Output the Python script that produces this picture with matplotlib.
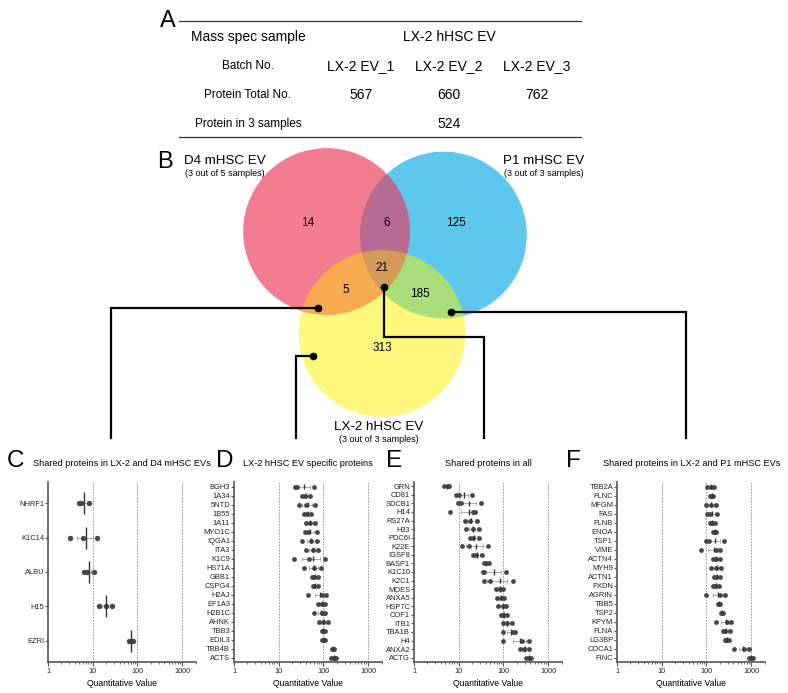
import numpy as np
import matplotlib
matplotlib.use("Agg")
import matplotlib.pyplot as plt
from matplotlib.colors import to_rgba

plt.rcParams['font.family'] = ['Liberation Sans', 'DejaVu Sans']

## donnees du tableau (A)
batches = ["LX-2 EV_1", "LX-2 EV_2", "LX-2 EV_3"]
protein_totals = [567, 660, 762]
protein_in_all = 524

## donnees du venn (B)
venn_sets = ["D4 mHSC EV", "P1 mHSC EV", "LX-2 hHSC EV"]
venn_notes = ["(3 out of 5 samples)", "(3 out of 3 samples)", "(3 out of 3 samples)"]
# regions : D4 seul, D4&P1, P1 seul, tous, D4&LX2, P1&LX2, LX2 seul
venn_counts = [14, 6, 125, 21, 5, 185, 313]

## panneaux C-F : 3 valeurs par proteine
C_names = ["NHRF1", "K1C14", "ALBU", "H15", "EZRI"]
C_vals = [[4.9, 5.5, 8.3], [3.1, 6.2, 12.3], [6.4, 7.6, 10.5],
          [13.6, 19.9, 27.0], [66, 72, 80]]

D_names = ["BGH3", "1A34", "5NTD", "1B55", "1A11", "MYO1C", "IQGA1", "ITA3",
           "K1C9", "HS71A", "GBB1", "CSPG4", "H2AJ", "EF1A3", "H2B1C", "AHNK",
           "TBB3", "EDIL3", "TBB4B", "ACTS"]
D_vals = [[23.5, 25.5, 63], [34, 39, 49], [27.8, 40.4, 65], [37, 44, 53],
          [39.8, 49, 65], [37.8, 45, 71], [34, 53, 71], [41, 57, 77],
          [21.5, 47, 109], [36, 62, 87], [55, 63, 75], [57, 63, 77],
          [45, 92, 113], [75, 92, 109], [63, 92, 109], [80, 100, 125],
          [92, 100, 109], [95, 102, 109], [153, 164, 175], [148, 170, 195]]

E_names = ["GRN", "CD81", "SDCB1", "H14", "RS27A", "H33", "PDC6I", "K22E",
           "IGSF8", "BASP1", "K1C10", "K2C1", "MOES", "ANXA5", "HSP7C", "COF1",
           "ITB1", "TBA1B", "H4", "ANXA2", "ACTG"]
E_vals = [[4.8, 5.7, 6.2], [8.5, 10, 20], [9.5, 11, 31], [6.3, 21, 23],
          [13.6, 18.2, 25.6], [14.5, 20.6, 28.9], [18, 20.6, 29],
          [11.8, 17.3, 45], [20.6, 24.4, 33.2], [36, 41, 47], [35, 37, 115],
          [36, 51, 160], [68.5, 85, 96], [70, 88, 105], [75, 100, 112],
          [88, 100, 122], [100, 118, 152], [96, 160, 185], [97, 255, 370],
          [235, 290, 370], [320, 365, 420]]

F_names = ["TBB2A", "FLNC", "MFGM", "FAS", "FLNB", "ENOA", "TSP1", "VIME",
           "ACTN4", "MYH9", "ACTN1", "PXDN", "AGRIN", "TBB5", "TSP2", "KPYM",
           "FLNA", "LG3BP", "COCA1", "FINC"]
F_vals = [[105, 125, 148], [119, 129, 143], [97, 129, 161], [105, 119, 175],
          [119, 134, 153], [141, 153, 167], [97, 112, 247], [77, 161, 198],
          [141, 161, 198], [125, 167, 215], [148, 167, 204], [141, 153, 188],
          [97, 198, 255], [181, 191, 201], [215, 227, 239], [167, 290, 360],
          [235, 264, 330], [255, 278, 313], [412, 687, 888], [888, 1000, 1120]]

W, H = 788, 693
fig = plt.figure(figsize=(W / 100, H / 100), dpi=100)

# calque en pixels pour le tableau, le venn et les traits de liaison
ov = fig.add_axes([0, 0, 1, 1])
ov.axis("off")


def px_axes(left, top, right, bottom):
    """axes places en pixels (origine en haut a gauche)"""
    return fig.add_axes([left / W, 1 - bottom / H, (right - left) / W, (bottom - top) / H])


### A : tableau
ov.text(160, 27, "A", fontsize=17, va="baseline")
ov.plot([179, 581], [20.7, 20.7], color="#333333", lw=0.9)
ov.plot([179, 581], [136.5, 136.5], color="#333333", lw=0.9)
col_x = [361, 449, 537]
ov.text(248, 37, "Mass spec sample", fontsize=10, ha="center", va="center")
ov.text(449, 37, "LX-2 hHSC EV", fontsize=10, ha="center", va="center")
ov.text(248, 66, "Batch No.", fontsize=8.5, ha="center", va="center")
ov.text(248, 95, "Protein Total No.", fontsize=8.5, ha="center", va="center")
ov.text(248, 124, "Protein in 3 samples", fontsize=8.5, ha="center", va="center")
for x, b, t in zip(col_x, batches, protein_totals):
    ov.text(x, 66, b, fontsize=10, ha="center", va="center")
    ov.text(x, 95, str(t), fontsize=10, ha="center", va="center")
ov.text(col_x[1], 124, str(protein_in_all), fontsize=10, ha="center", va="center")

### B : venn
circles = [(326.5, 231.5, 83.5), (443.5, 235, 83.5), (382, 333.5, 83.5)]
region_colors = ["#ffffff00", "#F27C90", "#5EC8EE", "#B86A93",
                 "#FFF87C", "#F7AA50", "#A9DE7A", "#D49A58"]
lut = np.array([to_rgba(c) for c in region_colors])
x0, x1, y0, y1 = 230, 540, 140, 425
step = 0.25
xs = np.arange(x0, x1, step) + step / 2
ys = np.arange(y0, y1, step) + step / 2
XX, YY = np.meshgrid(xs, ys)
code = np.zeros(XX.shape, dtype=int)
for k, (cx, cy, r) in enumerate(circles):
    code += ((XX - cx) ** 2 + (YY - cy) ** 2 <= r ** 2).astype(int) << k
ov.imshow(lut[code], extent=(x0, x1, y1, y0), interpolation="antialiased", zorder=1)

ov.text(157, 168, "B", fontsize=17, va="baseline")
label_pos = [(225, 161), (544, 161), (379, 427)]
for (lx, ly), name, note in zip(label_pos, venn_sets, venn_notes):
    ov.text(lx, ly, name, fontsize=9.6, ha="center", va="center")
    ov.text(lx, ly + 12.5, note, fontsize=6.5, ha="center", va="center")
count_pos = [(308, 223), (387, 223), (456, 223), (382, 268), (346, 290), (420, 294), (382, 348)]
for (cx, cy), n in zip(count_pos, venn_counts):
    ov.text(cx, cy, str(n), fontsize=8.5, ha="center", va="center", zorder=3)

# traits de liaison venn -> panneaux
links = [([318, 111, 111], [308, 308, 438]),
         ([313, 296, 296], [356, 356, 438]),
         ([384, 384, 484, 484], [287, 337, 337, 438]),
         ([451, 686, 686], [312, 312, 438])]
for lx, ly in links:
    ov.plot(lx, ly, color="black", lw=1.6, zorder=4, solid_joinstyle="miter")
    ov.plot(lx[0], ly[0], "o", color="black", ms=4.5, zorder=5)

ov.set_xlim(0, W)
ov.set_ylim(H, 0)
ov.set_aspect("auto")


### C-F : dot plots
def draw_panel(ax, names, vals, pad, dot_s):
    n = len(names)
    for i, v in enumerate(vals):
        v = np.array(v, dtype=float)
        m = v.mean()
        se = v.std(ddof=1) / np.sqrt(len(v))
        ax.errorbar(m, i, xerr=se, fmt="none", ecolor="#9a9a9a", elinewidth=0.6,
                    capsize=1.2, capthick=0.6, zorder=2)
        ax.scatter(v, [i] * len(v), s=dot_s, color="#474747", linewidths=0, zorder=3)
        ax.vlines(m, i - 0.32, i + 0.32, color="#333333", lw=1.0, zorder=4)
    ax.set_xscale("log")
    ax.set_xlim(1, 2000)
    ax.set_ylim(n - 1 + pad, -pad)
    ax.set_yticks(np.arange(n))
    ax.set_yticklabels(names)
    ax.set_xticks([1, 10, 100, 1000])
    ax.set_xticklabels(["1", "10", "100", "1000"])
    for g in [10, 100, 1000]:
        ax.axvline(g, color="#8c8c8c", lw=0.6, ls=(0, (2, 1.5)), zorder=0)
    for s in ["top", "right"]:
        ax.spines[s].set_visible(False)
    for s in ["left", "bottom"]:
        ax.spines[s].set_color("#555555")
        ax.spines[s].set_linewidth(1.2)
    ax.tick_params(axis="y", length=2, width=0.8, color="#555555", labelsize=5.4,
                   labelcolor="#222222", pad=0.8)
    ax.tick_params(axis="x", which="major", length=3, width=0.8, color="#555555",
                   labelsize=5.2, labelcolor="#222222", pad=1.5)
    ax.tick_params(axis="x", which="minor", length=1.6, width=0.6, color="#555555")
    ax.set_xlabel("Quantitative Value", fontsize=6.2, labelpad=2.5)


axC = px_axes(48, 482, 195.6, 662)
draw_panel(axC, C_names, C_vals, 0.62, 15)
axD = px_axes(234, 482, 381.6, 662)
draw_panel(axD, D_names, D_vals, 0.5, 12)
axE = px_axes(414, 482, 561.6, 662)
draw_panel(axE, E_names, E_vals, 0.5, 12)
axF = px_axes(617, 482, 764.6, 662)
draw_panel(axF, F_names, F_vals, 0.5, 12)

titles = [("C", 7, 33, "Shared proteins in LX-2 and D4 mHSC EVs"),
          ("D", 216, 243, "LX-2 hHSC EV specific proteins"),
          ("E", 386, 445, "Shared proteins in all"),
          ("F", 566, 603, "Shared proteins in LX-2 and P1 mHSC EVs")]
for letter, lx, tx, t in titles:
    ov.text(lx, 467, letter, fontsize=17.5, va="baseline")
    ov.text(tx, 466, t, fontsize=6.6, va="baseline")

fig.savefig("out.png", dpi=100)
